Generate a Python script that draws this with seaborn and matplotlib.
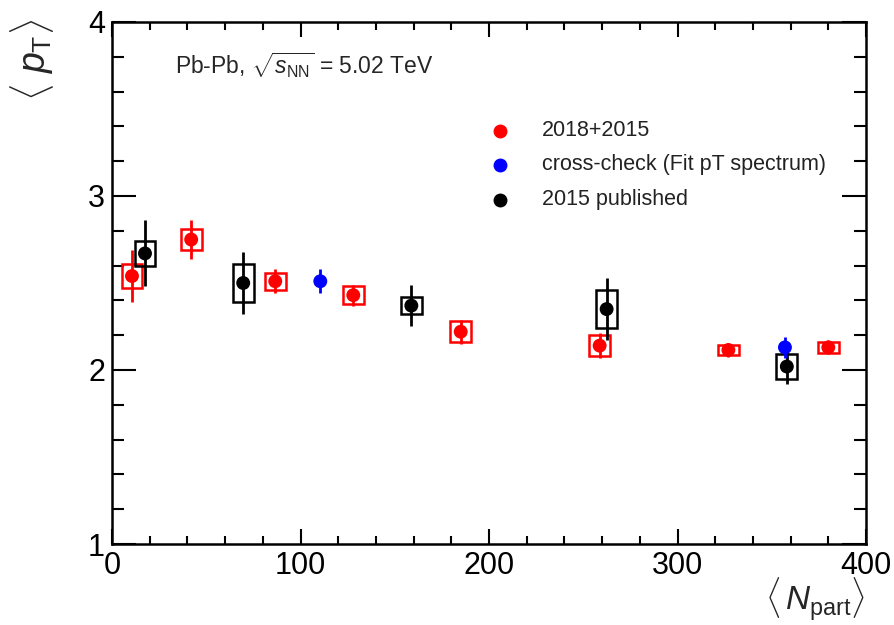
import numpy as np
import pandas as pd
import matplotlib
matplotlib.use("Agg")
import matplotlib.pyplot as plt
import seaborn as sns
from matplotlib.patches import Rectangle
from matplotlib.ticker import MultipleLocator

# ---- data ----
red_x = [10.6, 42, 86.6, 128, 185, 258.7, 327, 380]
red_y = [2.54, 2.75, 2.51, 2.43, 2.22, 2.14, 2.115, 2.13]
red_stat = [0.15, 0.11, 0.07, 0.06, 0.07, 0.07, 0.04, 0.04]
red_sys = [0.07, 0.06, 0.05, 0.05, 0.06, 0.06, 0.03, 0.03]

blue_x = [110.5, 357]
blue_y = [2.51, 2.13]
blue_stat = [0.07, 0.06]

black_x = [17.5, 69.6, 158.8, 262.4, 358]
black_y = [2.67, 2.50, 2.37, 2.35, 2.02]
black_stat = [0.19, 0.18, 0.12, 0.18, 0.10]
black_sys = [0.07, 0.11, 0.05, 0.11, 0.07]

sys_halfwidth = 5.5

labels = ["2018+2015", "cross-check (Fit pT spectrum)", "2015 published"]

sns.set_style("white")
plt.rcParams['font.family'] = ['Liberation Sans', 'DejaVu Sans']
plt.rcParams['mathtext.fontset'] = 'custom'
plt.rcParams['mathtext.rm'] = 'Liberation Sans'
plt.rcParams['mathtext.it'] = 'Liberation Sans:italic'

fig = plt.figure(figsize=(8.94, 6.25), dpi=100)
ax = fig.add_axes([112/894, 1-544/625, (866-112)/894, (544-22)/625])

df = pd.concat([
    pd.DataFrame({"x": red_x, "y": red_y, "s": labels[0]}),
    pd.DataFrame({"x": blue_x, "y": blue_y, "s": labels[1]}),
    pd.DataFrame({"x": black_x, "y": black_y, "s": labels[2]}),
])
palette = {labels[0]: "#ff0000", labels[1]: "#0000ff", labels[2]: "#000000"}

# boxes and error bars
for xs, ys, st, sy, c in [(red_x, red_y, red_stat, red_sys, "#ff0000"),
                          (black_x, black_y, black_stat, black_sys, "#000000")]:
    for x, y, e, s in zip(xs, ys, st, sy):
        ax.add_patch(Rectangle((x - sys_halfwidth, y - s), 2*sys_halfwidth, 2*s,
                               fill=False, edgecolor=c, lw=1.8, zorder=2))
    ax.errorbar(xs, ys, yerr=st, fmt='none', ecolor=c, elinewidth=2, capsize=0, zorder=3)
ax.errorbar(blue_x, blue_y, yerr=blue_stat, fmt='none', ecolor="#0000ff", elinewidth=2, capsize=0, zorder=3)

sns.scatterplot(data=df, x="x", y="y", hue="s", palette=palette, s=100,
                edgecolor='none', ax=ax, zorder=4, legend=False)

ax.set_xlim(0, 400)
ax.set_ylim(1, 4)
ax.xaxis.set_major_locator(MultipleLocator(100))
ax.xaxis.set_minor_locator(MultipleLocator(20))
ax.yaxis.set_major_locator(MultipleLocator(1))
ax.yaxis.set_minor_locator(MultipleLocator(0.2))
ax.tick_params(which='both', direction='in', top=True, right=True, bottom=True,
               left=True, width=1.5, labelsize=22, colors='black')
ax.tick_params(axis='x', which='major', length=11, pad=5)
ax.tick_params(axis='x', which='minor', length=5.5)
ax.tick_params(axis='y', which='major', length=17, pad=5)
ax.tick_params(axis='y', which='minor', length=8.5)
for sp in ax.spines.values():
    sp.set_linewidth(1.8)
    sp.set_color('black')
ax.set_xlabel("")
ax.set_ylabel("")

fig.text(865/894, 1-623/625, r"$\langle\,N_{\rm part}\rangle$", fontsize=24,
         ha='right', va='bottom')
fig.text(32/894, 1-60/625, r"$\langle\ p_{\rm T}\rangle$", fontsize=27,
         ha='center', va='center', rotation=90)

ax.text((175-112)/754, 1-(65-22)/522, r"Pb-Pb, $\sqrt{s_{\rm NN}}$ = 5.02 TeV",
        transform=ax.transAxes, fontsize=16.5, va='center', ha='left')

# legend
leg_y = [131, 165, 200]
for lab, py in zip(labels, leg_y):
    yf = 1 - (py - 22) / 522
    ax.plot([(500-112)/754], [yf], 'o', color=palette[lab], ms=9,
            transform=ax.transAxes, clip_on=False)
    ax.text((542-112)/754, yf, lab, transform=ax.transAxes, fontsize=15.5,
            va='center', ha='left', color='#222222')

fig.savefig("out.png", dpi=100)
